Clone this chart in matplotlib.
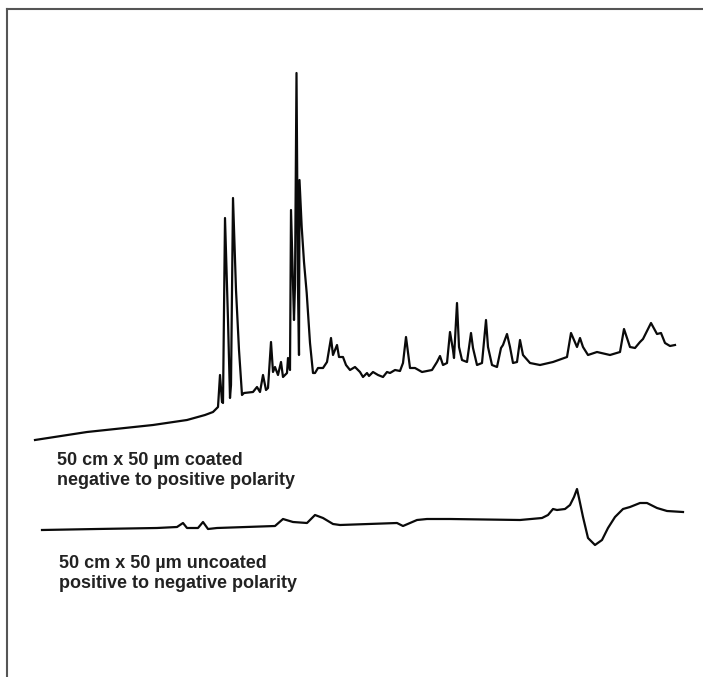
import numpy as np
import matplotlib
matplotlib.use("Agg")
import matplotlib.pyplot as plt

# ------------------------------------------------------------------
# Traces (x = time axis, y = signal,
# y grows downwards like the original page)
# ------------------------------------------------------------------
coated_x = [35, 87, 153, 187, 205, 213, 218, 220, 222, 223, 225, 228, 230, 231,
            233, 236, 239, 242, 244, 253, 257, 260, 263, 266, 268, 271, 273, 275,
            278, 281, 283, 287, 288, 290, 291, 294, 295, 296.5, 298, 299,
            299.5, 301.7, 304, 306.7, 310, 313, 315, 318, 323, 327, 331, 333, 337,
            339, 343, 346, 350, 355, 360, 363, 367, 369, 373, 378, 383, 387, 390,
            395, 400, 403, 406, 410, 415, 422, 432, 437, 440, 443, 447, 450, 453,
            454, 457, 459, 462, 467, 471, 473, 477, 482, 486, 488, 492, 497, 501,
            503, 507, 510, 513, 517, 520, 523, 530, 540, 553, 567, 571, 577, 580,
            583, 588, 597, 610, 620, 624, 630, 635, 640, 643, 651, 657, 661, 665,
            670, 675]
coated_y = [440, 432, 425, 420, 415, 412, 407, 375, 402, 403, 218, 320, 398, 385,
            198, 290, 350, 395, 393, 392, 387, 392, 375, 390, 388, 342, 372, 367,
            375, 362, 377, 373, 358, 370, 210, 320, 285, 73, 290, 355,
            180, 227, 262, 293, 343, 373, 373, 368, 368, 362, 338, 355, 345,
            357, 357, 365, 370, 367, 372, 377, 373, 376, 372, 375, 377, 372, 373,
            370, 371, 363, 337, 368, 368, 372, 370, 362, 356, 365, 363, 332, 350,
            358, 303, 347, 360, 362, 333, 348, 365, 363, 320, 347, 365, 367, 348,
            345, 334, 347, 363, 362, 340, 355, 363, 365, 362, 357, 333, 347, 338,
            347, 355, 352, 355, 352, 329, 347, 348, 342, 339, 323, 334, 333, 343,
            346, 345]

uncoated_x = [42, 97, 157, 177, 183, 187, 198, 203, 208, 217, 275, 283, 293, 307,
              315, 323, 333, 340, 397, 403, 417, 427, 450, 520, 542, 548, 553, 557,
              565, 570, 574, 577, 579, 583, 588, 595, 602, 608, 615, 623, 630, 640,
              647, 657, 667, 683]
uncoated_y = [530, 529, 528, 527, 523, 528, 528, 522, 529, 528, 526, 519, 522, 523,
              515, 518, 524, 525, 523, 526, 520, 519, 519, 520, 518, 515, 509, 510,
              509, 505, 497, 489, 498, 517, 538, 545, 540, 528, 517, 509, 507, 503,
              503, 508, 511, 512]

coated_label = ["50 cm x 50 µm coated", "negative to positive polarity"]
uncoated_label = ["50 cm x 50 µm uncoated", "positive to negative polarity"]

# ------------------------------------------------------------------ plotting
W, H = 703, 677
fig = plt.figure(figsize=(W / 100, H / 100), dpi=100)
ax = fig.add_axes([7 / W, 0, (W - 7) / W, (H - 9) / H])
ax.set_xlim(7, W)
ax.set_ylim(H, 9)

ax.plot(coated_x, coated_y, color="#0a0a0a", lw=1.6, solid_joinstyle="round")
ax.plot(uncoated_x, uncoated_y, color="#0a0a0a", lw=1.6, solid_joinstyle="round")

txt = dict(fontsize=13, fontweight="bold", color="#222222", va="baseline",
           family=["Liberation Sans", "DejaVu Sans"])
ax.text(57, 465, coated_label[0], **txt)
ax.text(57, 485, coated_label[1], **txt)
ax.text(59, 568, uncoated_label[0], **txt)
ax.text(59, 588, uncoated_label[1], **txt)

for side in ["right", "bottom"]:
    ax.spines[side].set_visible(False)
for side in ["top", "left"]:
    ax.spines[side].set_color("#555555")
    ax.spines[side].set_linewidth(1.5)
ax.set_xticks([])
ax.set_yticks([])

fig.savefig("out.png", dpi=100)
